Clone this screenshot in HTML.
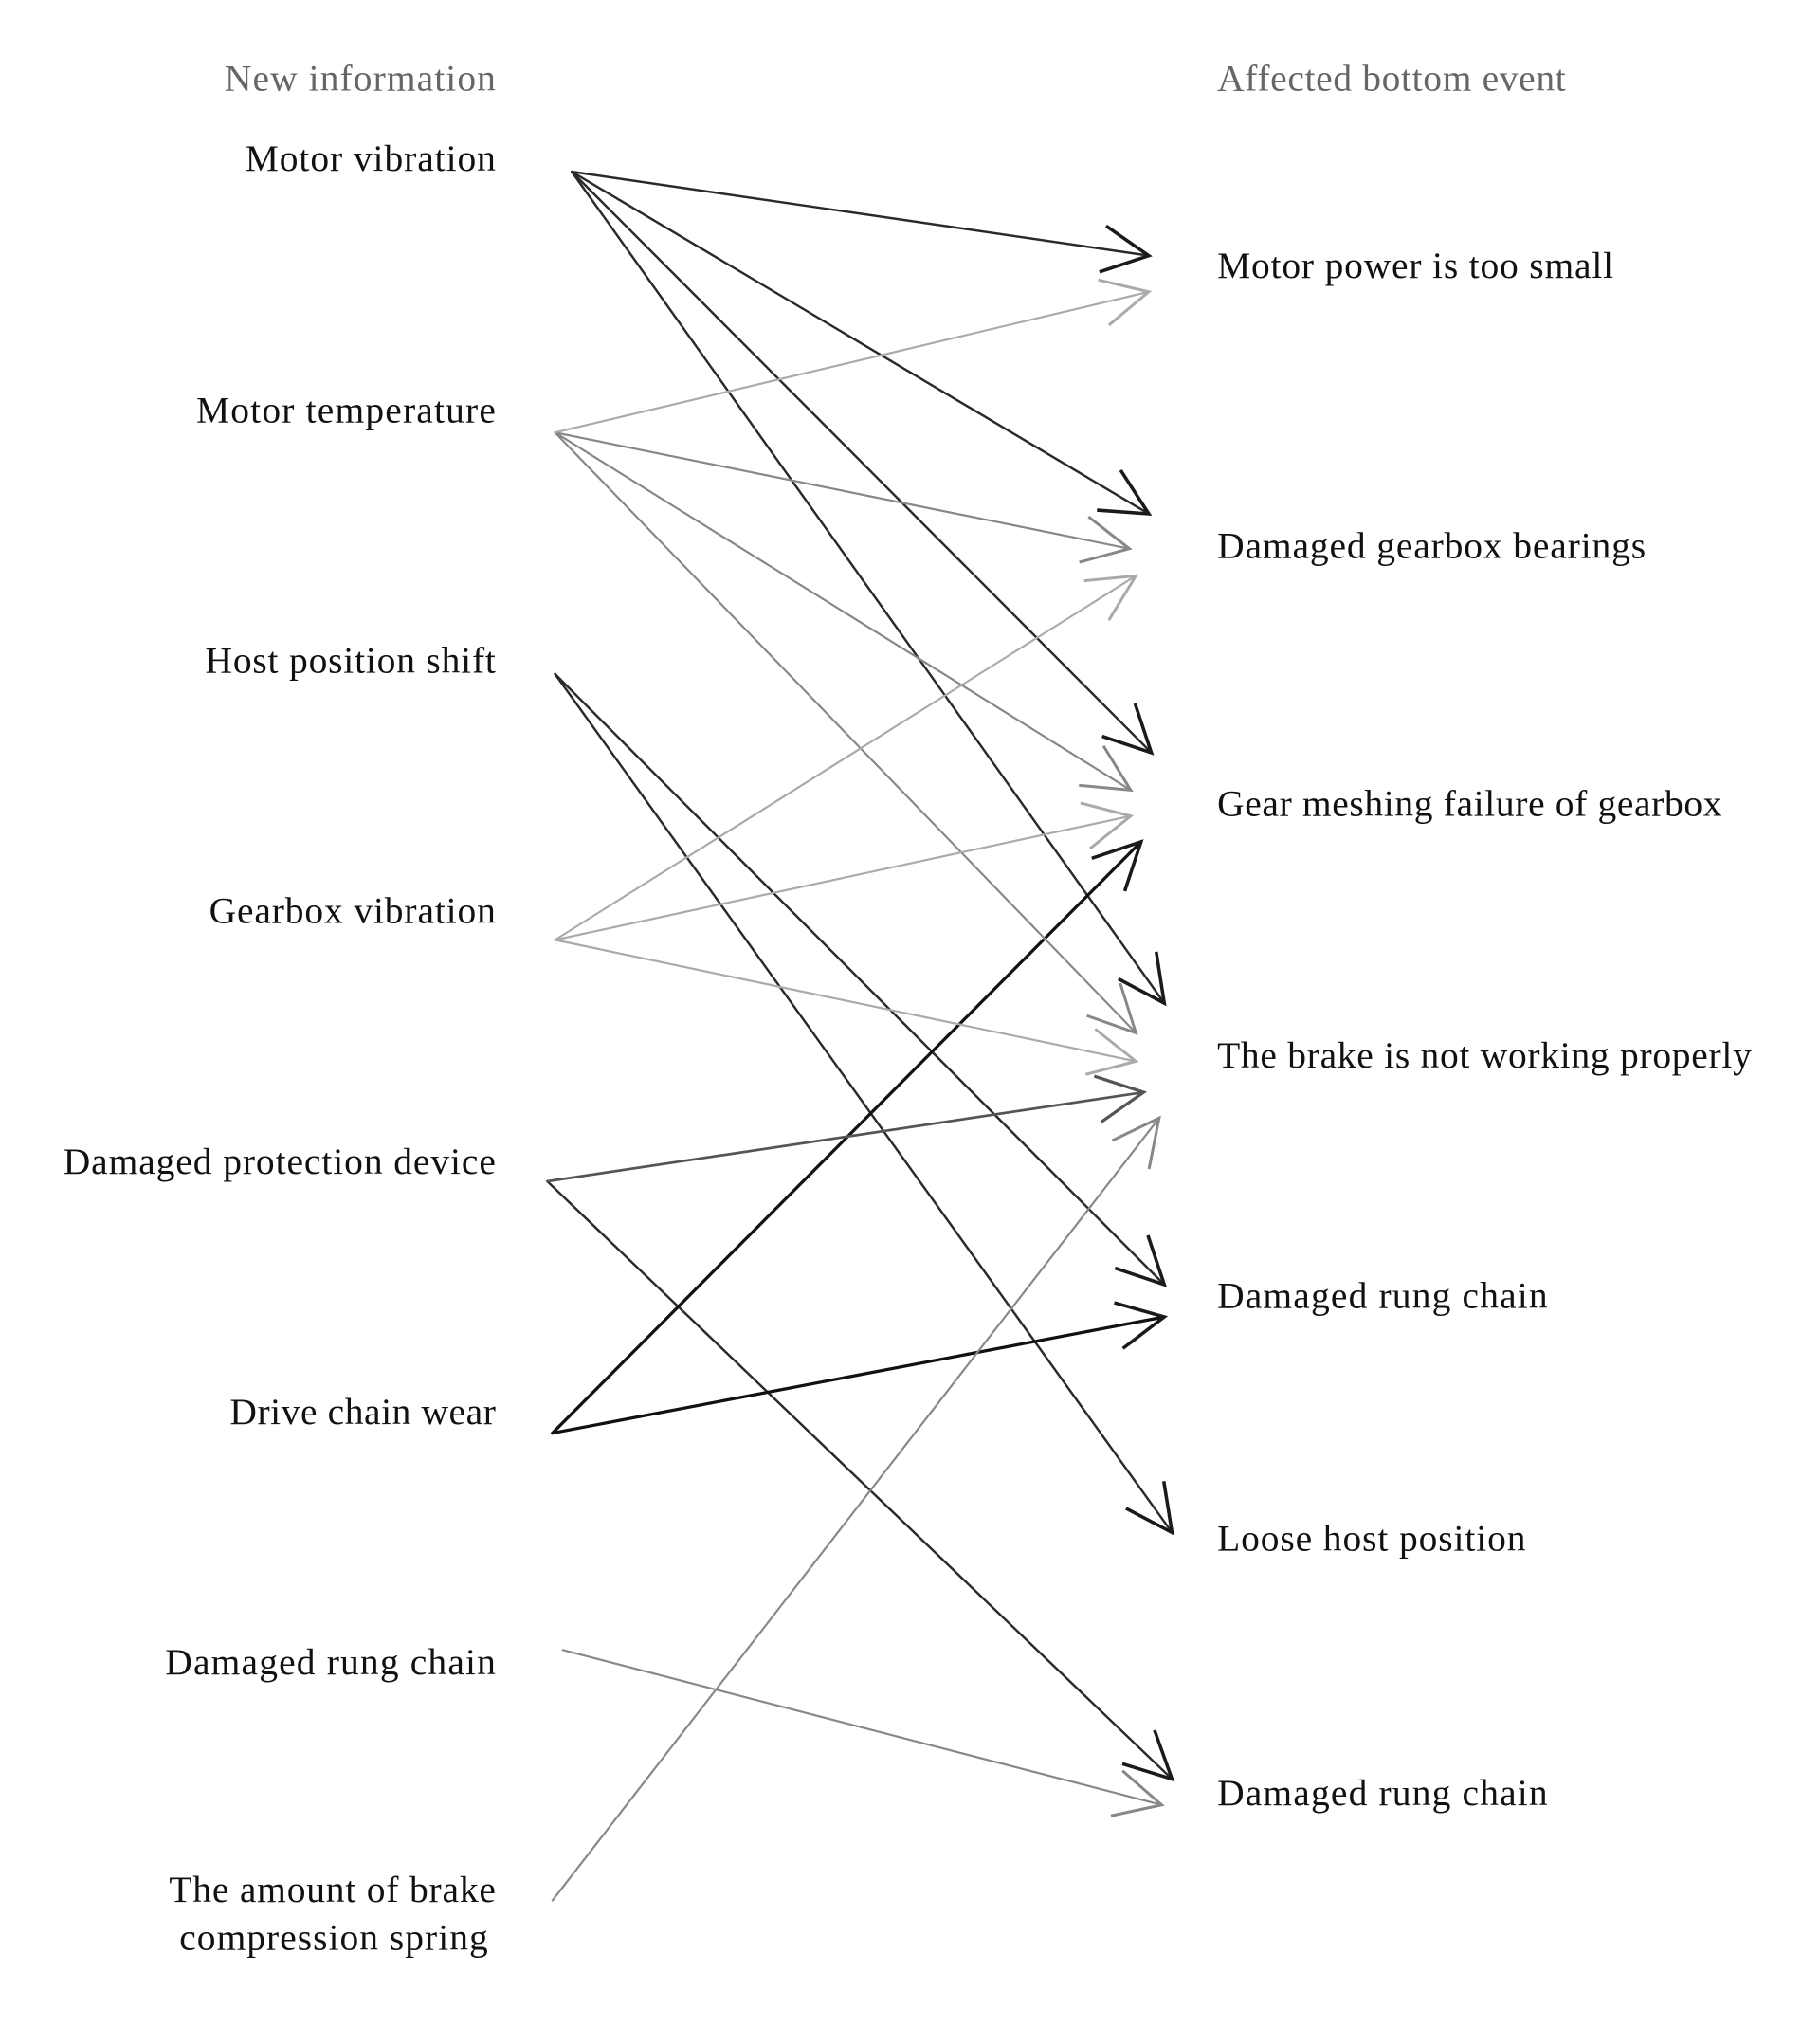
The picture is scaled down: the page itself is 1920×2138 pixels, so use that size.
<!DOCTYPE html>
<html><head><meta charset="utf-8"><style>html,body{margin:0;padding:0;background:#fff;}svg{display:block}</style></head>
<body>
<svg width="1920" height="2138" viewBox="0 0 1410 1570" preserveAspectRatio="none" xmlns="http://www.w3.org/2000/svg">
<defs>
<marker id="m1" markerUnits="userSpaceOnUse" markerWidth="60" markerHeight="60" refX="0" refY="0" viewBox="-50 -30 60 60" orient="auto" overflow="visible"><path d="M-36 -18 L0 0 L-36 18" fill="none" stroke="#1a1a1a" stroke-width="2.6"/></marker>
<marker id="m2" markerUnits="userSpaceOnUse" markerWidth="60" markerHeight="60" refX="0" refY="0" viewBox="-50 -30 60 60" orient="auto" overflow="visible"><path d="M-36 -18 L0 0 L-36 18" fill="none" stroke="#555" stroke-width="2.4"/></marker>
<marker id="m3" markerUnits="userSpaceOnUse" markerWidth="60" markerHeight="60" refX="0" refY="0" viewBox="-50 -30 60 60" orient="auto" overflow="visible"><path d="M-36 -18 L0 0 L-36 18" fill="none" stroke="#888" stroke-width="2.2"/></marker>
<marker id="m4" markerUnits="userSpaceOnUse" markerWidth="60" markerHeight="60" refX="0" refY="0" viewBox="-50 -30 60 60" orient="auto" overflow="visible"><path d="M-36 -18 L0 0 L-36 18" fill="none" stroke="#aaa" stroke-width="2.2"/></marker>
</defs>
<g fill="none" stroke-linecap="round">
<g stroke="#2a2a2a" stroke-width="1.8" marker-end="url(#m1)">
<line x1="443" y1="133" x2="890" y2="198"/>
<line x1="443" y1="133" x2="890" y2="398"/>
<line x1="443" y1="133" x2="892" y2="583"/>
<line x1="443" y1="133" x2="902" y2="777"/>
<line x1="430" y1="522" x2="902" y2="995"/>
<line x1="430" y1="522" x2="908" y2="1187"/>
<line x1="424" y1="915" x2="908" y2="1378"/>
</g>
<g stroke="#111" stroke-width="2.4" marker-end="url(#m1)">
<line x1="428" y1="1110" x2="884" y2="652"/>
<line x1="428" y1="1110" x2="902" y2="1020"/>
</g>
<g stroke="#555" stroke-width="2" marker-end="url(#m2)">
<line x1="424" y1="915" x2="886" y2="846"/>
</g>
<g stroke="#888" stroke-width="1.6" marker-end="url(#m3)">
<line x1="430" y1="335" x2="875" y2="425"/>
<line x1="430" y1="335" x2="876" y2="612"/>
<line x1="430" y1="335" x2="880" y2="800"/>
<line x1="436" y1="1278" x2="900" y2="1398"/>
<line x1="428" y1="1472" x2="898" y2="866"/>
</g>
<g stroke="#aaa" stroke-width="1.6" marker-end="url(#m4)">
<line x1="430" y1="335" x2="890" y2="226"/>
<line x1="430" y1="728" x2="880" y2="446"/>
<line x1="430" y1="728" x2="876" y2="632"/>
<line x1="430" y1="728" x2="880" y2="822"/>
</g>
</g>
<g font-family="Liberation Serif, serif" font-size="29" fill="#111">
<g text-anchor="end">
<text x="384" y="70" fill="#666" textLength="210">New information</text>
<text x="384" y="132" textLength="194">Motor vibration</text>
<text x="384" y="327" textLength="232">Motor temperature</text>
<text x="384" y="521" textLength="225">Host position shift</text>
<text x="384" y="715" textLength="222">Gearbox vibration</text>
<text x="384" y="909" textLength="335">Damaged protection device</text>
<text x="384" y="1103" textLength="206">Drive chain wear</text>
<text x="384" y="1297" textLength="256">Damaged rung chain</text>
<text x="384" y="1473" textLength="253">The amount of brake</text>
<text x="378" y="1510" textLength="239">compression spring</text>
</g>
<text x="943" y="70" fill="#666" textLength="270">Affected bottom event</text>
<text x="943" y="215" textLength="307">Motor power is too small</text>
<text x="943" y="432" textLength="332">Damaged gearbox bearings</text>
<text x="943" y="632" textLength="391">Gear meshing failure of gearbox</text>
<text x="943" y="827" textLength="414">The brake is not working properly</text>
<text x="943" y="1013" textLength="256">Damaged rung chain</text>
<text x="943" y="1201" textLength="239">Loose host position</text>
<text x="943" y="1398" textLength="256">Damaged rung chain</text>
</g>
</svg>
</body></html>
